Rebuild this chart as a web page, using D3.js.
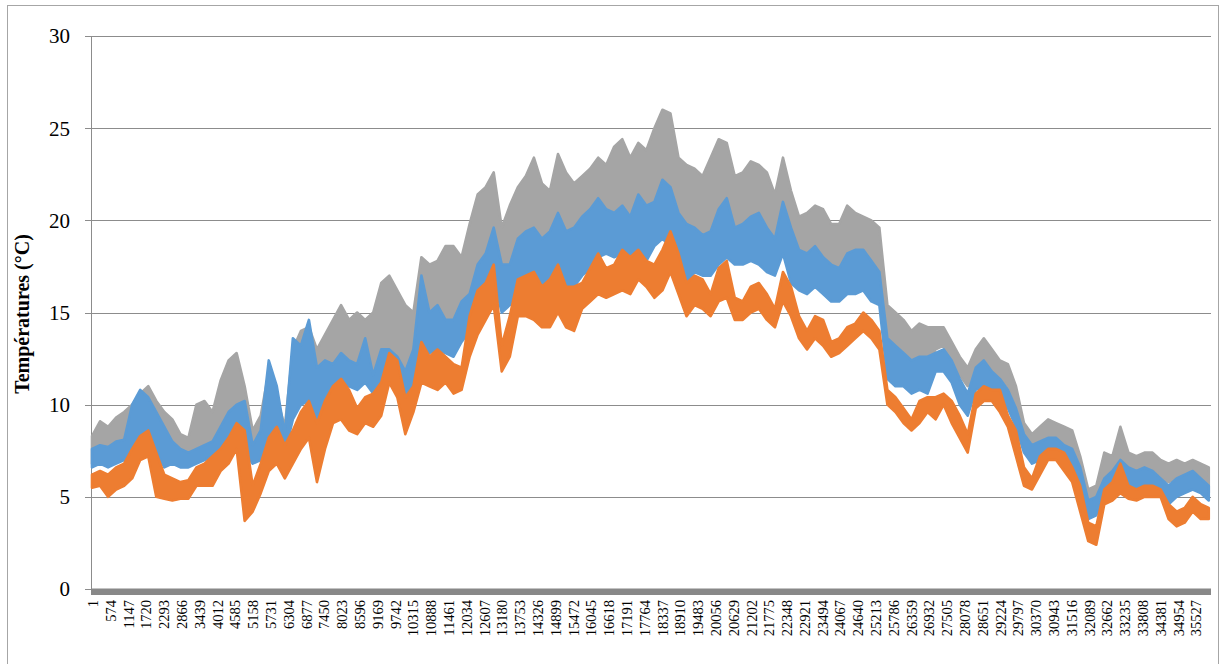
<!DOCTYPE html>
<html>
<head>
<meta charset="utf-8">
<script src="https://cdn.jsdelivr.net/npm/d3@7/dist/d3.min.js"></script>
<style>
  html, body { margin: 0; padding: 0; background: #fff; }
  svg { display: block; }
  text { font-family: "Times New Roman", "Liberation Serif", serif; fill: #000; }
</style>
</head>
<body>
<svg id="chart" width="1221" height="664"></svg>
<script>
// ---- DATA ----
// Each series is given as pairs [upper, lower] of the values seen inside
// consecutive windows of binStep samples (the series oscillates daily, so a
// window's min..max is what the dense line fills on screen).
const nSamples = 36000;
const binStep = 258.7;

const yTicks = [0, 5, 10, 15, 20, 25, 30];
const xTickLabels = [1,574,1147,1720,2293,2866,3439,4012,4585,5158,5731,6304,6877,7450,8023,8596,9169,9742,
  10315,10888,11461,12034,12607,13180,13753,14326,14899,15472,16045,16618,17191,17764,18337,18910,19483,
  20056,20629,21202,21775,22348,22921,23494,24067,24640,25213,25786,26359,26932,27505,28078,28651,29224,
  29797,30370,30943,31516,32089,32662,33235,33808,34381,34954,35527];

const grayValues = [
  8.3,6.8, 9.1,7.2, 8.8,7.4, 9.3,7.4, 9.6,7.6, 10.0,8.0, 10.6,9.0, 11.0,9.2, 10.2,8.6, 9.6,8.0,
  9.2,7.6, 8.4,7.2, 8.2,7.0, 10.0,7.2, 10.2,7.4, 9.6,7.6, 11.3,8.4, 12.4,9.0, 12.8,9.2, 11.0,8.0,
  8.6,7.0, 9.4,7.6, 11.8,8.6, 10.4,8.6, 8.8,7.8, 13.0,9.6, 14.0,10.6, 14.2,11.0, 13.0,9.6, 13.8,10.8,
  14.6,11.6, 15.4,11.8, 14.6,11.6, 15.0,11.4, 14.6,11.8, 15.0,11.4, 16.6,12.0, 17.0,12.6, 16.2,12.4, 15.4,11.4,
  15.0,12.0, 18.0,13.6, 17.6,13.6, 17.8,14.0, 18.6,14.2, 18.6,14.0, 18.0,14.6, 19.8,15.4, 21.4,16.2, 21.8,17.8,
  22.6,18.6, 19.6,16.0, 20.8,16.4, 21.8,17.6, 22.4,17.4, 23.4,18.0, 22.0,17.8, 21.6,17.4, 23.6,18.6, 22.6,18.6,
  22.0,18.6, 22.4,19.0, 22.8,19.2, 23.4,19.6, 23.0,19.6, 24.0,19.8, 24.4,19.8, 23.4,19.6, 24.2,20.0, 23.8,19.6,
  25.0,20.8, 26.0,21.2, 25.8,21.0, 23.4,19.4, 23.0,18.8, 22.8,19.0, 22.4,18.6, 23.4,19.0, 24.4,19.6, 24.2,19.4,
  22.4,19.0, 22.6,19.4, 23.2,19.6, 23.0,19.8, 22.6,19.0, 21.4,18.6, 23.4,19.4, 21.6,18.0, 20.2,17.6, 20.4,17.6,
  20.8,17.8, 20.6,17.6, 19.8,17.0, 19.8,17.2, 20.8,17.6, 20.4,17.8, 20.2,18.0, 20.0,17.6, 19.6,17.0, 15.4,13.0,
  15.0,12.8, 14.6,12.6, 14.0,12.2, 14.4,12.4, 14.2,12.2, 14.2,13.0, 14.2,13.2, 13.4,12.2, 12.6,11.6, 12.0,11.0,
  13.0,11.8, 13.6,12.4, 13.0,11.8, 12.4,11.4, 12.2,11.0, 11.0,9.6, 9.0,8.2, 8.4,7.6, 8.8,7.8, 9.2,8.2,
  9.0,8.2, 8.8,7.8, 8.6,7.6, 7.2,5.8, 5.4,4.0, 5.6,4.4, 7.4,6.0, 7.2,6.0, 8.8,6.4, 7.4,6.2,
  7.2,6.2, 7.4,6.2, 7.4,6.4, 7.0,6.0, 6.8,5.8, 7.0,6.0, 6.8,5.8, 7.0,6.0, 6.8,5.8, 6.6,5.2
];

const blueValues = [
  7.6,6.6, 7.8,6.8, 7.7,6.6, 8.0,6.8, 8.1,7.0, 10.0,7.4, 10.8,8.4, 10.4,8.0, 9.6,7.4, 8.8,6.6,
  8.0,6.8, 7.6,6.6, 7.4,6.6, 7.6,6.8, 7.8,7.0, 8.0,7.2, 8.8,7.4, 9.6,8.0, 10.0,8.4, 10.2,7.4,
  7.8,6.8, 8.6,7.0, 12.4,8.4, 11.0,8.2, 8.4,7.4, 13.6,9.2, 13.2,10.0, 14.6,10.2, 12.0,8.0, 12.4,10.0,
  12.2,11.0, 12.8,11.2, 12.4,11.0, 12.2,10.8, 13.6,11.2, 11.6,10.6, 13.0,11.0, 13.0,11.6, 12.6,11.0, 11.8,10.4,
  13.0,11.0, 17.0,13.0, 15.0,12.8, 15.4,13.0, 14.6,12.8, 14.6,12.6, 15.6,13.4, 16.0,14.0, 17.6,15.0, 18.2,16.0,
  19.6,16.8, 17.6,15.0, 17.6,15.4, 19.0,16.0, 19.4,16.2, 19.6,16.6, 19.0,16.4, 19.4,16.0, 20.4,16.8, 19.4,16.4,
  19.6,16.4, 20.2,17.0, 20.6,17.4, 21.2,18.0, 20.6,18.2, 20.4,18.0, 20.8,18.2, 20.2,17.6, 21.4,18.2, 20.8,17.8,
  21.0,18.6, 22.2,19.0, 21.8,18.6, 20.4,17.0, 19.8,16.6, 19.6,17.2, 19.2,17.0, 19.4,17.0, 20.6,17.6, 21.2,18.0,
  19.6,17.6, 19.8,17.6, 20.2,17.8, 20.4,17.6, 19.6,17.2, 19.0,17.0, 21.0,18.2, 19.6,16.6, 18.4,16.2, 18.2,16.0,
  18.6,16.4, 18.0,16.0, 17.6,15.6, 17.4,15.6, 18.2,16.0, 18.4,16.0, 18.4,16.2, 17.8,15.6, 17.2,15.4, 13.6,11.4,
  13.2,11.0, 12.8,11.0, 12.4,10.6, 12.6,10.8, 12.6,10.6, 12.8,11.8, 13.0,11.8, 12.4,11.2, 11.4,10.0, 10.6,9.4,
  12.0,10.8, 12.4,11.0, 11.8,10.6, 11.4,10.2, 10.8,9.8, 9.8,8.8, 8.4,7.4, 7.8,6.8, 8.0,7.0, 8.2,7.2,
  8.2,7.4, 7.8,6.8, 7.6,6.6, 6.6,5.4, 4.8,3.8, 5.0,4.0, 6.0,5.2, 6.4,5.4, 7.0,5.6, 6.6,5.4,
  6.4,5.0, 6.6,5.4, 6.4,5.4, 6.0,5.2, 5.6,4.6, 6.0,5.0, 6.2,5.2, 6.4,5.4, 6.0,5.2, 5.6,4.8
];

const orangeValues = [
  6.2,5.5, 6.4,5.6, 6.2,5.0, 6.6,5.4, 6.8,5.6, 7.6,6.0, 8.3,7.0, 8.6,7.2, 7.4,5.0, 6.2,4.9,
  6.0,4.8, 5.8,4.9, 5.9,4.9, 6.6,5.6, 6.8,5.6, 7.2,5.6, 7.6,6.4, 8.2,6.8, 9.0,7.6, 8.6,3.7,
  5.6,4.2, 6.8,5.2, 8.2,6.4, 8.8,6.8, 7.8,6.0, 8.6,6.8, 9.6,7.6, 10.2,8.2, 9.0,5.8, 10.2,7.6,
  11.0,9.0, 11.4,9.2, 10.8,8.6, 9.8,8.4, 10.4,9.0, 10.6,8.8, 11.2,9.4, 12.8,11.2, 12.4,10.4, 10.4,8.4,
  11.0,9.6, 13.4,11.2, 12.6,11.0, 13.0,10.8, 12.6,11.2, 12.2,10.6, 12.0,10.8, 14.8,12.6, 16.2,13.8, 16.6,14.6,
  17.6,15.4, 13.2,11.8, 14.8,12.6, 16.8,14.8, 17.0,14.8, 17.2,14.6, 16.4,14.2, 16.8,14.2, 17.6,15.0, 16.4,14.2,
  16.4,14.0, 16.6,15.2, 17.4,15.6, 18.2,16.0, 17.4,15.8, 17.6,16.0, 18.4,16.2, 18.0,16.0, 18.4,16.8, 17.8,16.4,
  17.6,15.8, 18.4,16.2, 19.4,17.2, 18.2,16.0, 16.6,14.8, 17.0,15.4, 16.8,15.2, 16.0,14.8, 17.4,15.6, 17.8,15.8,
  15.8,14.6, 15.6,14.6, 16.4,15.0, 16.6,15.2, 16.0,14.6, 15.2,14.2, 17.2,15.6, 16.4,14.8, 14.8,13.6, 14.0,13.0,
  14.8,13.6, 14.6,13.2, 13.4,12.6, 13.6,12.8, 14.2,13.2, 14.4,13.6, 15.0,14.0, 14.6,13.6, 14.0,13.0, 10.8,10.0,
  10.4,9.6, 9.8,9.0, 9.2,8.6, 10.2,9.0, 10.4,9.6, 10.4,9.2, 10.6,10.0, 10.2,9.0, 9.4,8.2, 8.4,7.4,
  10.6,9.8, 11.0,10.2, 10.8,10.2, 10.8,9.6, 9.4,8.8, 8.6,7.2, 6.6,5.6, 6.0,5.4, 7.2,6.2, 7.6,7.0,
  7.6,7.0, 7.4,6.4, 6.6,5.8, 5.6,4.2, 3.6,2.6, 3.4,2.4, 5.4,4.6, 5.8,4.8, 6.8,5.2, 5.6,4.9,
  5.4,4.8, 5.6,5.0, 5.6,5.0, 5.4,5.0, 4.6,3.8, 4.2,3.4, 4.4,3.6, 5.0,4.2, 4.6,3.8, 4.4,3.8
];

const seriesColors = { gray: "#a5a5a5", blue: "#5b9bd5", orange: "#ed7d31" };
const yTitle = "Températures (°C)";

// ---- LAYOUT ----
const svg = d3.select("#chart");
const plot = { left: 91, right: 1211, top: 36, bottom: 589 };

const x = d3.scaleLinear().domain([1, nSamples]).range([92, 1210]);
const y = d3.scaleLinear().domain([0, 30]).range([plot.bottom, plot.top]);

// outer border
svg.append("rect")
  .attr("x", 7.5).attr("y", 5.5).attr("width", 1211).attr("height", 680)
  .attr("fill", "none").attr("stroke", "#a6a6a6").attr("stroke-width", 1);

// gridlines + y tick marks
svg.append("g").selectAll("line").data(yTicks.filter(d => d > 0)).join("line")
  .attr("x1", 85).attr("x2", plot.right)
  .attr("y1", d => Math.round(y(d)) + 0.5).attr("y2", d => Math.round(y(d)) + 0.5)
  .attr("stroke", "#8c8c8c").attr("stroke-width", 1);

// y axis line
svg.append("line")
  .attr("x1", plot.left + 0.5).attr("x2", plot.left + 0.5)
  .attr("y1", plot.top).attr("y2", plot.bottom)
  .attr("stroke", "#8c8c8c").attr("stroke-width", 1);

svg.append("line")
  .attr("x1", 85).attr("x2", plot.left)
  .attr("y1", plot.bottom + 0.5).attr("y2", plot.bottom + 0.5)
  .attr("stroke", "#8c8c8c");

// y labels
svg.append("g").selectAll("text").data(yTicks).join("text")
  .attr("x", 70).attr("y", d => y(d)).attr("dy", "0.35em")
  .attr("text-anchor", "end").attr("font-size", 21)
  .text(d => d);

// series: the dense daily oscillation fills the band between each window's lower and upper reading
function bins(values) {
  return d3.range(values.length / 2).map(k => ({ i: 1 + k * binStep, hi: values[2 * k], lo: values[2 * k + 1] }));
}
const band = d3.area().x(d => x(d.i)).y0(d => y(d.lo)).y1(d => y(d.hi));

const order = [["gray", grayValues], ["blue", blueValues], ["orange", orangeValues]];
svg.append("g").selectAll("path").data(order).join("path")
  .attr("d", d => band(bins(d[1])))
  .attr("fill", d => seriesColors[d[0]])
  .attr("stroke", d => seriesColors[d[0]])
  .attr("stroke-width", 2.6)
  .attr("stroke-linejoin", "round");

// category axis (dense tick marks form a solid band)
svg.append("rect")
  .attr("x", plot.left).attr("y", plot.bottom - 0.5)
  .attr("width", plot.right - plot.left).attr("height", 6.5)
  .attr("fill", "#888888");

// x labels
svg.append("g").selectAll("text").data(xTickLabels).join("text")
  .attr("transform", d => `translate(${x(d) + 1},600) rotate(-90)`)
  .attr("dy", "0.35em")
  .attr("text-anchor", "end").attr("font-size", 14.5)
  .text(d => d);

// y title
svg.append("text")
  .attr("transform", `translate(22,314) rotate(-90)`)
  .attr("dy", "0.35em")
  .attr("text-anchor", "middle").attr("font-size", 20).attr("font-weight", "bold")
  .text(yTitle);
</script>
</body>
</html>
